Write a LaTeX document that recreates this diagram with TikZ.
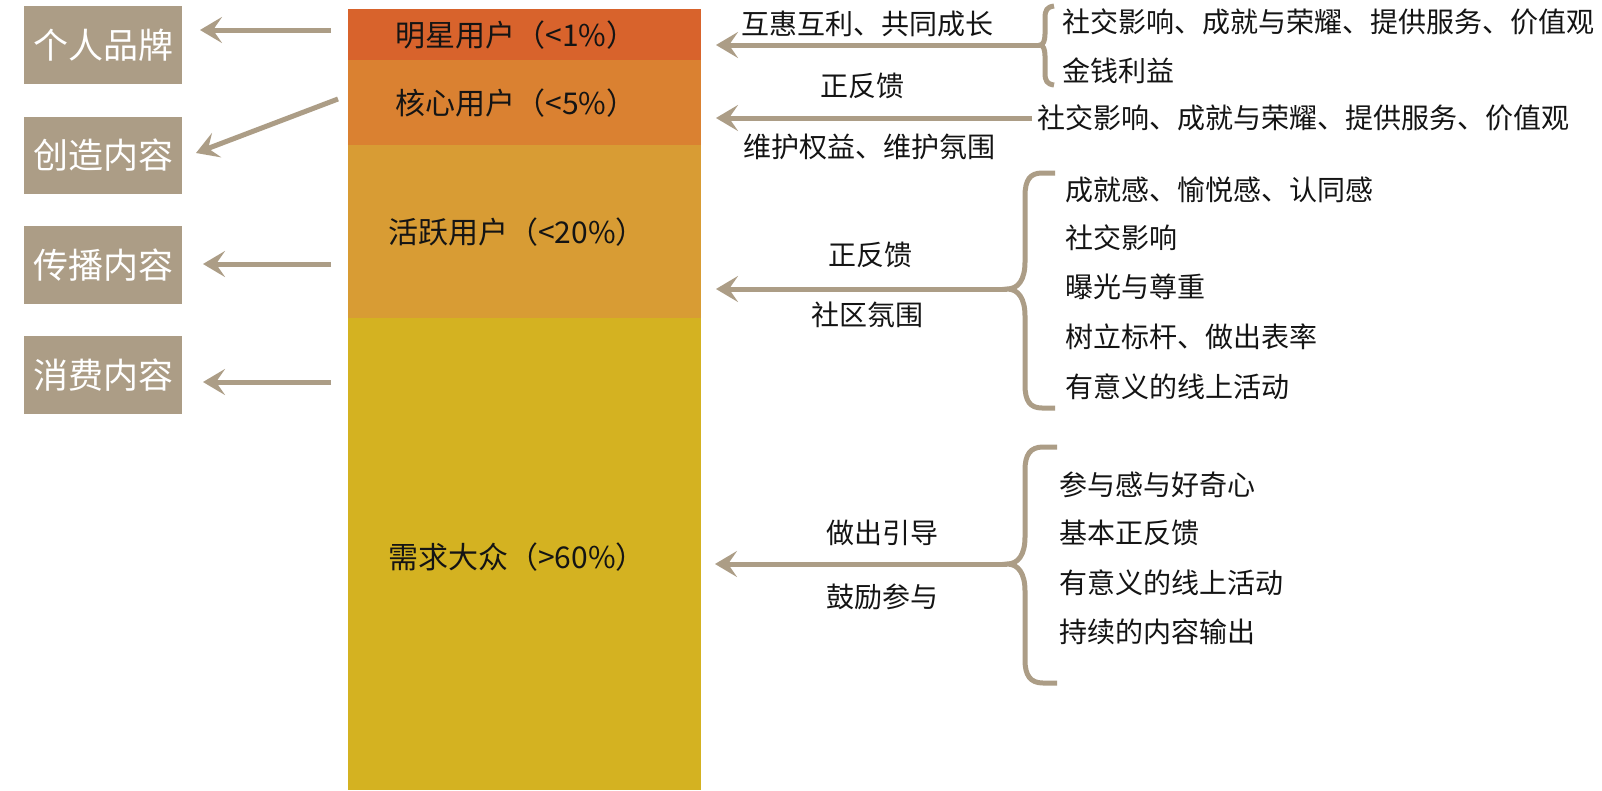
\documentclass[tikz,border=0pt]{standalone}
\usepackage{fontspec}
\setmainfont{Noto Sans CJK SC}
\usetikzlibrary{arrows.meta}
\definecolor{taupe}{RGB}{172,157,134}
\definecolor{bandA}{RGB}{216,99,44}
\definecolor{bandB}{RGB}{218,129,49}
\definecolor{bandC}{RGB}{216,156,52}
\definecolor{bandD}{RGB}{212,178,33}
\definecolor{ink}{RGB}{20,20,20}
\tikzset{
  conn/.style={draw=taupe, line width=5pt, -{Stealth[length=22pt,width=26pt,inset=9pt]}},
  bracket/.style={draw=taupe, line width=5pt},
  lbox/.style={fill=taupe, text=white, minimum width=158pt, minimum height=77pt, inner sep=0pt, font=\fontsize{35}{40}\selectfont},
  band/.style={anchor=north west, inner sep=0pt, outer sep=0pt, minimum width=353pt},
  blabel/.style={font=\fontsize{30}{34}\selectfont, text=ink, inner sep=0pt},
  txt/.style={font=\fontsize{28}{32}\selectfont, text=ink, inner sep=0pt},
  item/.style={txt, anchor=west},
}
\begin{document}
\begin{tikzpicture}[x=1pt,y=-1pt]
\useasboundingbox[fill=white] (0,0) rectangle (1602,790);

% column bands
\node[band, fill=bandA, minimum height=51pt]  (b1) at (348,9) {};
\node[band, fill=bandB, minimum height=85pt]  (b2) at (348,60) {};
\node[band, fill=bandC, minimum height=173pt] (b3) at (348,145) {};
\node[band, fill=bandD, minimum height=472pt] (b4) at (348,318) {};
\node[blabel] (l1) at (516,35)  {明星用户（<1\%）};
\node[blabel] (l2) at (516,103) {核心用户（<5\%）};
\node[blabel] (l3) at (517,232) {活跃用户（<20\%）};
\node[blabel] (l4) at (517,557) {需求大众（>60\%）};

% left boxes
\node[lbox, minimum height=78pt] (p1) at (103,45)    {个人品牌};
\node[lbox] (p2) at (103,155.5) {创造内容};
\node[lbox, minimum height=78pt] (p3) at (103,265)   {传播内容};
\node[lbox, minimum height=78pt] (p4) at (103,375)   {消费内容};

% left arrows
\coordinate (s1) at (331,30);  \coordinate (t1) at (200,30);
\coordinate (s2) at (338,99);  \coordinate (t2) at (196,153);
\coordinate (s3) at (331,264); \coordinate (t3) at (203,264);
\coordinate (s4) at (331,382); \coordinate (t4) at (203,382);
\draw[conn] (s1) -- (t1);
\draw[conn] (s2) -- (t2);
\draw[conn] (s3) -- (t3);
\draw[conn] (s4) -- (t4);

% brace A
\coordinate (ma) at (1040,45);
\draw[bracket] (1054,6) .. controls (1047,7) and (1045,10) .. (1045,18) -- (1045,34)
  .. controls (1045,41) and (1043,45) .. (ma)
  .. controls (1043,45) and (1045,49) .. (1045,56) -- (1045,73)
  .. controls (1045,81) and (1047,84) .. (1054,85);
\coordinate (ta) at (716,45);
\draw[conn] (ma) -- (ta);
\node[txt] (ra1) at (867,24) {互惠互利、共同成长};
\node[item] (ia1) at (1062,22) {社交影响、成就与荣耀、提供服务、价值观};
\node[item] (ia2) at (1062,71) {金钱利益};

% arrow B
\coordinate (mb) at (1032,118);
\coordinate (tb) at (716,118);
\draw[conn] (mb) -- (tb);
\node[txt] (rb1) at (862,86)  {正反馈};
\node[txt] (rb2) at (869,147) {维护权益、维护氛围};
\node[item] (ib1) at (1037,118) {社交影响、成就与荣耀、提供服务、价值观};

% brace C
\coordinate (mc) at (1007,289);
\draw[bracket] (1055,173) -- (1042,173) .. controls (1030,173) and (1025,180) .. (1025,196) -- (1025,262)
  .. controls (1025,280) and (1018,289) .. (mc)
  .. controls (1018,289) and (1025,298) .. (1025,316) -- (1025,385)
  .. controls (1025,401) and (1030,408) .. (1042,408) -- (1055,408);
\coordinate (tc) at (716,289);
\draw[conn] (mc) -- (tc);
\node[txt] (rc1) at (870,255) {正反馈};
\node[txt] (rc2) at (867,315) {社区氛围};
\node[item] (ic1) at (1065,190) {成就感、愉悦感、认同感};
\node[item] (ic2) at (1065,238) {社交影响};
\node[item] (ic3) at (1065,287) {曝光与尊重};
\node[item] (ic4) at (1065,337) {树立标杆、做出表率};
\node[item] (ic5) at (1065,387) {有意义的线上活动};

% brace D
\coordinate (md) at (1007,564);
\draw[bracket] (1057,447) -- (1043,447) .. controls (1030,447) and (1025,455) .. (1025,470) -- (1025,537)
  .. controls (1025,555) and (1018,564) .. (md)
  .. controls (1018,564) and (1025,573) .. (1025,591) -- (1025,660)
  .. controls (1025,675) and (1030,683) .. (1043,683) -- (1057,683);
\coordinate (td) at (715,564);
\draw[conn] (md) -- (td);
\node[txt] (rd1) at (882,533) {做出引导};
\node[txt] (rd2) at (882,597) {鼓励参与};
\node[item] (id1) at (1059,485) {参与感与好奇心};
\node[item] (id2) at (1059,533) {基本正反馈};
\node[item] (id3) at (1059,583) {有意义的线上活动};
\node[item] (id4) at (1059,632) {持续的内容输出};
\end{tikzpicture}
\end{document}
